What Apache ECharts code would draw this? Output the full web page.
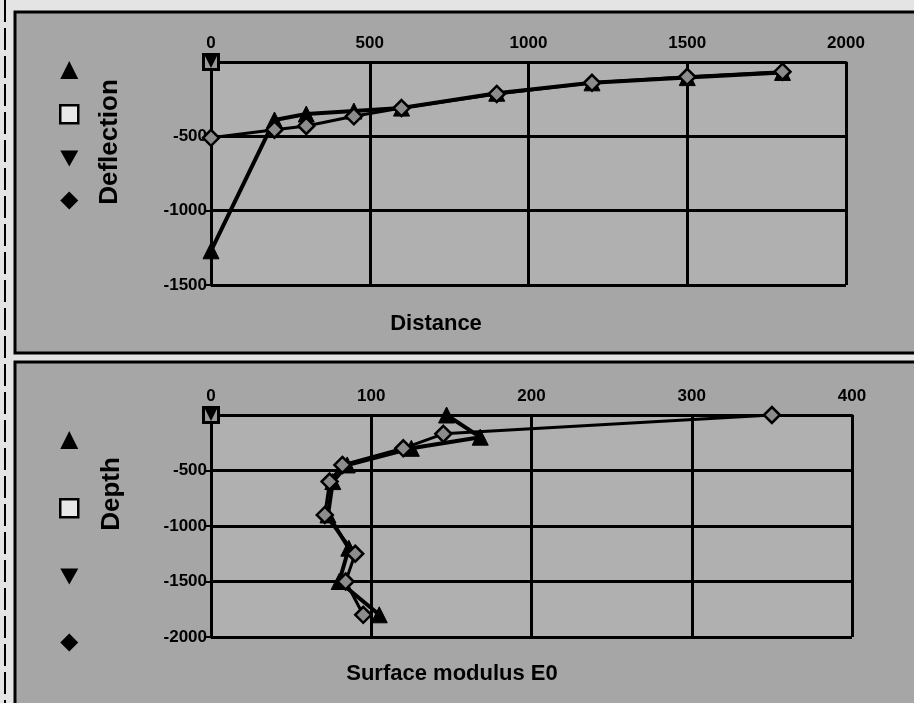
<!DOCTYPE html>
<html>
<head>
<meta charset="utf-8">
<script src="https://cdn.jsdelivr.net/npm/echarts@6/dist/echarts.min.js"></script>
<style>
  html, body { margin: 0; padding: 0; background: #e4e4e4; }
  #main { width: 914px; height: 703px; }
</style>
</head>
<body>
<div id="main"></div>
<script>
// top panel: deflection bowl
const distance = [0, 200, 300, 450, 600, 900, 1200, 1500, 1800];
const deflectionTri = [-1270, -390, -350, -330, -310, -210, -140, -105, -70];
const deflectionDia = [-510, -455, -430, -365, -310, -215, -140, -100, -65];

// bottom panel: modulus vs depth
const depthTri = [0, -200, -300, -450, -600, -900, -1200, -1500, -1800];
const modulusTri = [147, 168, 125, 85, 76, 73, 86, 80, 105];
const depthDia = [0, -170, -300, -450, -600, -900, -1250, -1500, -1800];
const modulusDia = [350, 145, 120, 82, 74, 71, 90, 84, 95];

// single points at the origin
const originPt = [[0, 0]];

const seriesNames = ['up', 'sq', 'down', 'dia'];
const distanceTicks = { min: 0, max: 2000, interval: 500 };
const deflectionTicks = { min: -1500, max: 0, interval: 500 };
const modulusTicks = { min: 0, max: 400, interval: 100 };
const depthTicks = { min: -2000, max: 0, interval: 500 };

const downTri = 'path://M0,0L10,0L5,9Z';
const font = 'Liberation Sans, Arial, sans-serif';

const chartDom = document.getElementById('main');
const myChart = echarts.init(chartDom);

function zip(xs, ys) {
    return xs.map((x, i) => [x, ys[i]]);
}

function xAxisFor(ticks, idx) {
    return {
        type: 'value', gridIndex: idx, position: 'top',
        min: ticks.min, max: ticks.max, interval: ticks.interval,
        axisLine: { onZero: false, lineStyle: { color: '#000', width: 3 } },
        axisTick: { show: false },
        axisLabel: {
            color: '#000', fontWeight: 'bold', fontSize: 17, fontFamily: font, margin: 10,
            formatter: v => String(v)
        },
        splitLine: { lineStyle: { color: '#000', width: 3 } }
    };
}

function yAxisFor(ticks, idx) {
    return {
        type: 'value', gridIndex: idx,
        min: ticks.min, max: ticks.max, interval: ticks.interval,
        axisLine: { show: true, onZero: false, lineStyle: { color: '#000', width: 3 } },
        axisTick: { show: true, length: 5, lineStyle: { color: '#000', width: 2 } },
        axisLabel: {
            color: '#000', fontWeight: 'bold', fontSize: 17, fontFamily: font, margin: 4,
            formatter: v => (v === 0 ? '' : String(v))
        },
        splitLine: { lineStyle: { color: '#000', width: 3 } }
    };
}

function seriesFor(idx, triData, diaData) {
    return [
        {
            name: 'up', type: 'line', xAxisIndex: idx, yAxisIndex: idx, data: triData,
            symbol: 'triangle', symbolSize: 16,
            lineStyle: { color: '#000', width: 4 },
            itemStyle: { color: '#000', borderColor: '#000' }, z: 3
        },
        {
            name: 'sq', type: 'line', xAxisIndex: idx, yAxisIndex: idx, data: originPt,
            symbol: 'rect', symbolSize: 15,
            itemStyle: { color: '#9a9a9a', borderColor: '#000', borderWidth: 3 }, z: 4
        },
        {
            name: 'down', type: 'line', xAxisIndex: idx, yAxisIndex: idx, data: originPt,
            symbol: downTri, symbolSize: 12,
            itemStyle: { color: '#000' }, z: 4
        },
        {
            name: 'dia', type: 'line', xAxisIndex: idx, yAxisIndex: idx, data: diaData,
            symbol: 'diamond', symbolSize: 16,
            lineStyle: { color: '#000', width: 3 },
            itemStyle: { color: '#8c8c8c', borderColor: '#000', borderWidth: 2.5 }, z: 5
        }
    ];
}

function legendFor(top, gap) {
    return {
        orient: 'vertical', left: 54, top: top, itemGap: gap,
        itemWidth: 18, itemHeight: 18, selectedMode: false,
        formatter: () => '',
        textStyle: { fontSize: 1 },
        data: [
            { name: seriesNames[0], icon: 'triangle', itemStyle: { color: '#000', borderWidth: 0 } },
            { name: seriesNames[1], icon: 'rect', itemStyle: { color: '#e8e8e8', borderColor: '#000', borderWidth: 2.5 } },
            { name: seriesNames[2], icon: downTri, itemStyle: { color: '#000', borderWidth: 0 } },
            { name: seriesNames[3], icon: 'diamond', itemStyle: { color: '#000', borderWidth: 0 } }
        ]
    };
}

function bold(text, x, y, size, rot) {
    return {
        type: 'text', x: x, y: y, rotation: rot || 0, z: 10,
        style: {
            text: text, fill: '#000', font: 'bold ' + size + 'px ' + font,
            align: 'center', verticalAlign: 'middle'
        }
    };
}

const option = {
    backgroundColor: '#e4e4e4',
    animation: false,
    graphic: [
        // dashed edge at far left
        { type: 'line', shape: { x1: 5, y1: 0, x2: 5, y2: 703 }, style: { stroke: '#000', lineWidth: 2, lineDash: [22, 6] }, z: -5 },
        // panels
        { type: 'rect', shape: { x: 15, y: 12, width: 910, height: 341 }, style: { fill: '#a6a6a6', stroke: '#000', lineWidth: 3 }, z: -5 },
        { type: 'rect', shape: { x: 15, y: 362, width: 910, height: 350 }, style: { fill: '#a6a6a6', stroke: '#000', lineWidth: 3 }, z: -5 },
        // plot areas
        { type: 'rect', shape: { x: 211, y: 62, width: 635, height: 223 }, style: { fill: '#b0b0b0' }, z: -4 },
        { type: 'rect', shape: { x: 211, y: 415, width: 641, height: 222 }, style: { fill: '#b0b0b0' }, z: -4 },
        bold('Deflection', 110, 142, 26, Math.PI / 2),
        bold('Distance', 436, 324, 22),
        bold('Depth', 112, 494, 26, Math.PI / 2),
        bold('Surface modulus E0', 452, 674, 22)
    ],
    legend: [legendFor(56, 25), legendFor(426, 49)],
    grid: [
        { left: 211, top: 62, width: 635, height: 223 },
        { left: 211, top: 415, width: 641, height: 222 }
    ],
    xAxis: [xAxisFor(distanceTicks, 0), xAxisFor(modulusTicks, 1)],
    yAxis: [yAxisFor(deflectionTicks, 0), yAxisFor(depthTicks, 1)],
    series: [
        ...seriesFor(0, zip(distance, deflectionTri), zip(distance, deflectionDia)),
        ...seriesFor(1, zip(modulusTri, depthTri), zip(modulusDia, depthDia))
    ]
};

myChart.setOption(option);
</script>
</body>
</html>
